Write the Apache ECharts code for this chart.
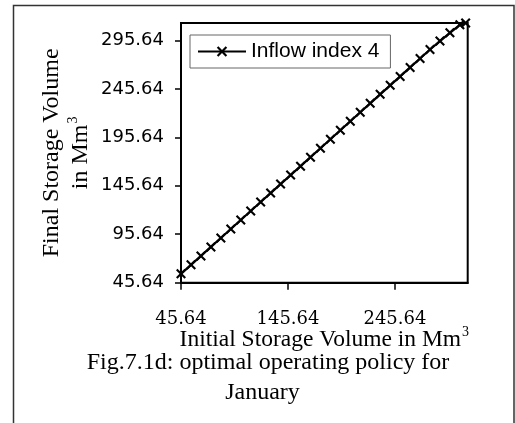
<!DOCTYPE html>
<html>
<head>
<meta charset="utf-8">
<script src="https://cdn.jsdelivr.net/npm/echarts@6/dist/echarts.min.js"></script>
<style>
  html, body { margin: 0; padding: 0; background: #fff; }
  #chart { width: 515px; height: 423px; }
</style>
</head>
<body>
<div id="chart"></div>
<script>
// Initial storage (Mm^3) for each discretised state
const initialStorage = [45.64, 55.0, 64.3, 73.6, 82.9, 92.2, 101.5, 110.8, 120.1, 129.4,
  138.7, 148.1, 157.4, 166.7, 176.0, 185.3, 194.6, 203.9, 213.2, 222.5,
  231.8, 241.2, 250.5, 259.8, 269.1, 278.4, 287.7, 297.0, 306.3, 311.7];
// Optimal final storage (Mm^3), inflow index 4
const finalStorage = [54.8, 64.1, 73.3, 82.6, 91.8, 101.1, 110.4, 119.6, 128.9, 138.1,
  147.4, 156.7, 165.9, 175.2, 184.4, 193.7, 203.0, 212.2, 221.5, 230.7,
  240.0, 249.3, 258.5, 267.8, 277.0, 286.3, 295.0, 303.5, 311.8, 313.6];

const seriesName = 'Inflow index 4';
const xTicks = [45.64, 145.64, 245.64];
const yTicks = [45.64, 95.64, 145.64, 195.64, 245.64, 295.64];
const axisMin = 45.64;
const axisMax = 313.64;

const chart = echarts.init(document.getElementById('chart'), null, { renderer: 'canvas' });

const crossPath = 'path://M0,1.5L1.5,0L5,3.5L8.5,0L10,1.5L6.5,5L10,8.5L8.5,10L5,6.5L1.5,10L0,8.5L3.5,5Z';
const serif = '"Liberation Serif", "Times New Roman", serif';

chart.setOption({
  backgroundColor: '#fff',
  animation: false,
  grid: { left: 181, top: 23, right: 47.3, bottom: 140.3, show: true, borderColor: '#000', borderWidth: 2 },
  legend: {
    left: 190, top: 35,
    padding: [6, 11, 6, 7],
    backgroundColor: '#fff',
    borderColor: '#666', borderWidth: 1,
    itemWidth: 48, itemHeight: 13, itemGap: 5,
    textStyle: { fontFamily: '"Liberation Sans", Arial, sans-serif', fontSize: 21, color: '#000' },
    data: [{ name: seriesName }]
  },
  xAxis: {
    type: 'value', min: axisMin, max: axisMax,
    splitLine: { show: false },
    axisLine: { lineStyle: { color: '#000', width: 2 } },
    axisTick: { show: true, length: 7, lineStyle: { color: '#000', width: 1.5 }, customValues: xTicks },
    axisLabel: {
      customValues: xTicks, margin: 28,
      fontFamily: '"DejaVu Serif", serif', fontSize: 18, color: '#000',
      formatter: v => v.toFixed(2)
    },
    name: '{a|Initial Storage Volume in Mm}{s|3}',
    nameLocation: 'middle', nameGap: 43, nameMoveOverlap: false,
    nameTextStyle: {
      rich: {
        a: { fontFamily: serif, fontSize: 23.5, color: '#000' },
        s: { fontFamily: serif, fontSize: 14, color: '#000', padding: [0, 0, 14, 1] }
      }
    }
  },
  yAxis: {
    type: 'value', min: axisMin, max: axisMax,
    splitLine: { show: false },
    axisLine: { lineStyle: { color: '#000', width: 2 } },
    axisTick: { show: true, length: 6, lineStyle: { color: '#000', width: 1.5 }, customValues: yTicks },
    axisLabel: {
      customValues: yTicks, margin: 17,
      fontFamily: '"DejaVu Sans", sans-serif', fontSize: 18, color: '#000',
      formatter: v => v.toFixed(2)
    },
    name: '{a|Final Storage Volume}\n{a|in Mm}{s|3}',
    nameLocation: 'middle', nameGap: 86, nameRotate: 90, nameMoveOverlap: false,
    nameTextStyle: {
      lineHeight: 29,
      rich: {
        a: { fontFamily: serif, fontSize: 24, color: '#000', lineHeight: 29 },
        s: { fontFamily: serif, fontSize: 14, color: '#000', padding: [0, 0, 14, 1] }
      }
    }
  },
  series: [{
    name: seriesName,
    type: 'line',
    data: initialStorage.map((x, i) => [x, finalStorage[i]]),
    symbol: crossPath,
    symbolSize: 10,
    showAllSymbol: true,
    clip: false,
    lineStyle: { color: '#000', width: 2.2 },
    itemStyle: { color: '#000' }
  }],
  graphic: [
    { type: 'rect', shape: { x: 13.5, y: 5.5, width: 500.5, height: 430 },
      style: { fill: null, stroke: '#333', lineWidth: 1.5 }, silent: true, z: -1 },
    { type: 'text', x: 268, y: 351,
      style: { text: 'Fig.7.1d: optimal operating policy for', fontFamily: serif, fontSize: 24,
        fill: '#000', align: 'center', verticalAlign: 'top' } },
    { type: 'text', x: 262.5, y: 381,
      style: { text: 'January', fontFamily: serif, fontSize: 24,
        fill: '#000', align: 'center', verticalAlign: 'top' } }
  ]
});
</script>
</body>
</html>
